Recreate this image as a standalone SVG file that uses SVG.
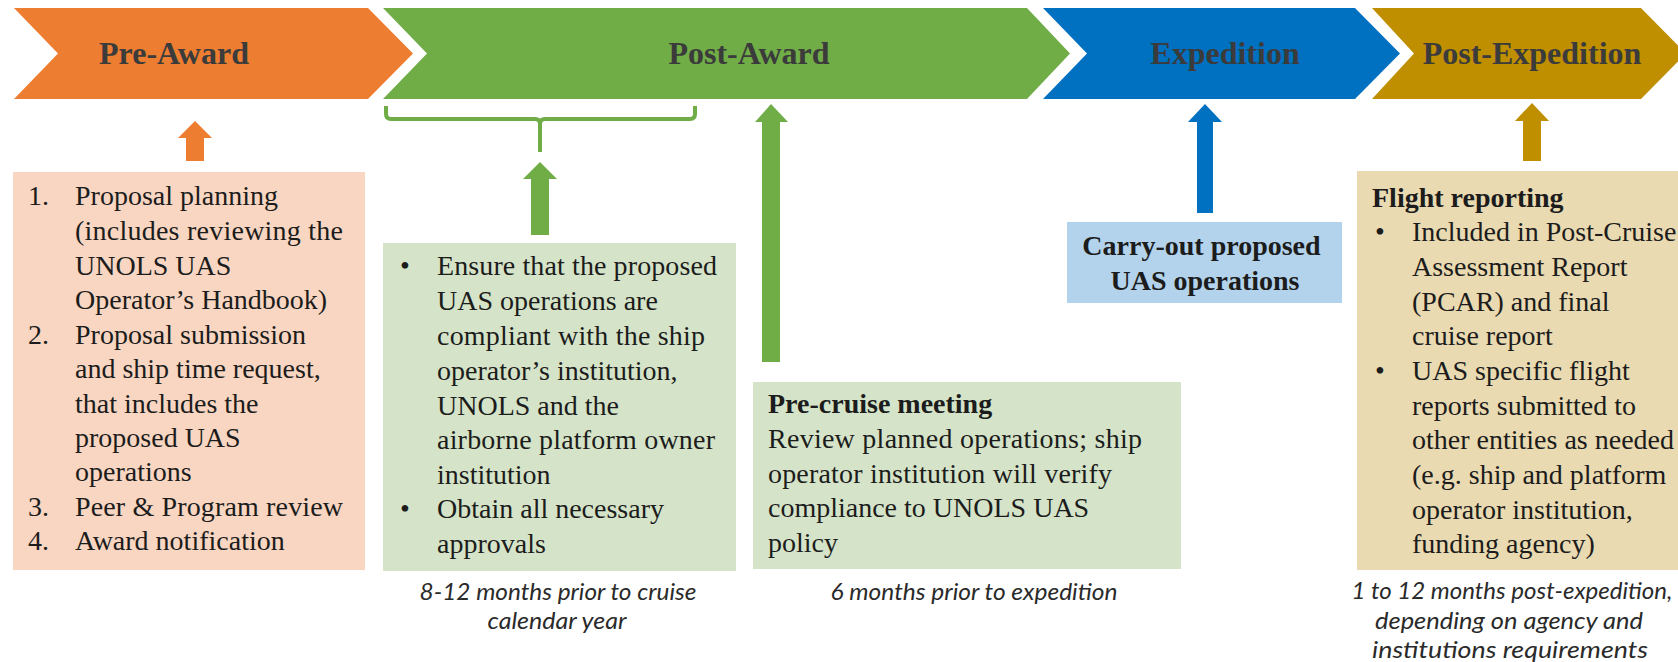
<svg xmlns="http://www.w3.org/2000/svg" width="1678" height="662" viewBox="0 0 1678 662">
  <style>
    .phase { font-family: "Liberation Serif", "Times New Roman", serif; font-weight: bold; font-size: 32px; fill: #3b3b3b; text-anchor: middle; }
    .body { font-family: "Liberation Serif", "Times New Roman", serif; font-size: 28px; fill: #1c1c1c; }
    .bold { font-weight: bold; }
    .when { font-family: Lato, "Open Sans", sans-serif; font-style: italic; font-size: 23px; fill: #2a2a2a; text-anchor: middle; }
    .orange { fill: #ED7D31; }
    .green { fill: #70AD47; }
    .blue { fill: #0070C0; }
    .gold { fill: #BF8F00; }
    .orange-lt { fill: #F8D6C1; }
    .green-lt { fill: #D5E4C8; }
    .blue-lt { fill: #B3D3EC; }
    .gold-lt { fill: #E9DAB1; }
  </style>

  <!-- timeline chevrons -->
  <g id="phase-pre-award">
    <polygon class="orange" points="14,8 368,8 413,53.5 368,99 14,99 58,53.5"/>
    <text class="phase" x="174" y="64">Pre-Award</text>
  </g>
  <g id="phase-post-award">
    <polygon class="green" points="383,8 1027,8 1070,53.5 1027,99 383,99 427,53.5"/>
    <text class="phase" x="749" y="64">Post-Award</text>
  </g>
  <g id="phase-expedition">
    <polygon class="blue" points="1043,8 1355,8 1400,53.5 1355,99 1043,99 1087,53.5"/>
    <text class="phase" x="1225" y="64">Expedition</text>
  </g>
  <g id="phase-post-expedition">
    <polygon class="gold" points="1372,8 1641,8 1686,53.5 1641,99 1372,99 1414,53.5"/>
    <text class="phase" x="1532" y="64">Post-Expedition</text>
  </g>

  <!-- connectors: block arrows and the brace under Post-Award -->
  <g id="connectors">
    <polygon class="orange" points="186,161 186,138 178,138 195,121 212,138 204,138 204,161"/>
    <path d="M386,106 V114 Q386,119 391,119 H535 Q540,119 540,124 V152 M540,124 Q540,119 545,119 H690 Q695,119 695,114 V106" fill="none" stroke="#70AD47" stroke-width="4"/>
    <polygon class="green" points="531,235 531,179 523,179 540,162 557,179 549,179 549,235"/>
    <polygon class="green" points="762,362 762,122 755,122 771,104 788,122 780,122 780,362"/>
    <polygon class="blue" points="1197,213 1197,122 1188,122 1205,104 1222,122 1213,122 1213,213"/>
    <polygon class="gold" points="1523,161 1523,121 1515,121 1532,103 1549,121 1541,121 1541,161"/>
  </g>

  <!-- Pre-Award tasks -->
  <g id="box-proposal">
    <rect class="orange-lt" x="13" y="172" width="352" height="398"/>
    <text class="body">
      <tspan x="28" y="205">1.</tspan><tspan x="75" y="205">Proposal planning</tspan>
      <tspan x="75" y="240" textLength="268" lengthAdjust="spacing">(includes reviewing the</tspan>
      <tspan x="75" y="275">UNOLS UAS</tspan>
      <tspan x="75" y="309">Operator’s Handbook)</tspan>
      <tspan x="28" y="344">2.</tspan><tspan x="75" y="344">Proposal submission</tspan>
      <tspan x="75" y="378">and ship time request,</tspan>
      <tspan x="75" y="413">that includes the</tspan>
      <tspan x="75" y="447">proposed UAS</tspan>
      <tspan x="75" y="481">operations</tspan>
      <tspan x="28" y="516">3.</tspan><tspan x="75" y="516" textLength="268" lengthAdjust="spacing">Peer &amp; Program review</tspan>
      <tspan x="28" y="550">4.</tspan><tspan x="75" y="550">Award notification</tspan>
    </text>
  </g>

  <!-- Post-Award approvals -->
  <g id="box-approvals">
    <rect class="green-lt" x="383" y="243" width="353" height="328"/>
    <text class="body">
      <tspan x="400" y="275">•</tspan><tspan x="437" y="275" textLength="280" lengthAdjust="spacing">Ensure that the proposed</tspan>
      <tspan x="437" y="310">UAS operations are</tspan>
      <tspan x="437" y="345" textLength="268" lengthAdjust="spacing">compliant with the ship</tspan>
      <tspan x="437" y="380">operator’s institution,</tspan>
      <tspan x="437" y="415">UNOLS and the</tspan>
      <tspan x="437" y="449" textLength="278" lengthAdjust="spacing">airborne platform owner</tspan>
      <tspan x="437" y="484">institution</tspan>
      <tspan x="400" y="518">•</tspan><tspan x="437" y="518">Obtain all necessary</tspan>
      <tspan x="437" y="553">approvals</tspan>
    </text>
    <text class="when" x="558" y="600" textLength="277" lengthAdjust="spacingAndGlyphs">8-12 months prior to cruise</text>
    <text class="when" x="557" y="629" textLength="139" lengthAdjust="spacingAndGlyphs">calendar year</text>
  </g>

  <!-- Post-Award pre-cruise meeting -->
  <g id="box-precruise">
    <rect class="green-lt" x="753" y="382" width="428" height="187"/>
    <text class="body">
      <tspan class="bold" x="768" y="413">Pre-cruise meeting</tspan>
      <tspan x="768" y="448" textLength="374" lengthAdjust="spacing">Review planned operations; ship</tspan>
      <tspan x="768" y="483" textLength="344" lengthAdjust="spacing">operator institution will verify</tspan>
      <tspan x="768" y="517">compliance to UNOLS UAS</tspan>
      <tspan x="768" y="552">policy</tspan>
    </text>
    <text class="when" x="974" y="600" textLength="287" lengthAdjust="spacingAndGlyphs">6 months prior to expedition</text>
  </g>

  <!-- Expedition -->
  <g id="box-carryout">
    <rect class="blue-lt" x="1067" y="222" width="275" height="81"/>
    <text class="body bold" text-anchor="middle">
      <tspan x="1205" y="255">Carry-out proposed</tspan>
      <tspan x="1205" y="290">UAS operations</tspan>
    </text>
  </g>

  <!-- Post-Expedition reporting -->
  <g id="box-reporting">
    <rect class="gold-lt" x="1357" y="171" width="330" height="399"/>
    <text class="body">
      <tspan class="bold" x="1372" y="207">Flight reporting</tspan>
      <tspan x="1375" y="241">•</tspan><tspan x="1412" y="241">Included in Post-Cruise</tspan>
      <tspan x="1412" y="276">Assessment Report</tspan>
      <tspan x="1412" y="311">(PCAR) and final</tspan>
      <tspan x="1412" y="345">cruise report</tspan>
      <tspan x="1375" y="380">•</tspan><tspan x="1412" y="380">UAS specific flight</tspan>
      <tspan x="1412" y="415">reports submitted to</tspan>
      <tspan x="1412" y="449">other entities as needed</tspan>
      <tspan x="1412" y="484">(e.g. ship and platform</tspan>
      <tspan x="1412" y="519">operator institution,</tspan>
      <tspan x="1412" y="553">funding agency)</tspan>
    </text>
    <text class="when" x="1512" y="599" textLength="321" lengthAdjust="spacingAndGlyphs">1 to 12 months post-expedition,</text>
    <text class="when" x="1509" y="629" textLength="268" lengthAdjust="spacingAndGlyphs">depending on agency and</text>
    <text class="when" x="1510" y="658" textLength="276" lengthAdjust="spacingAndGlyphs">institutions requirements</text>
  </g>
</svg>
